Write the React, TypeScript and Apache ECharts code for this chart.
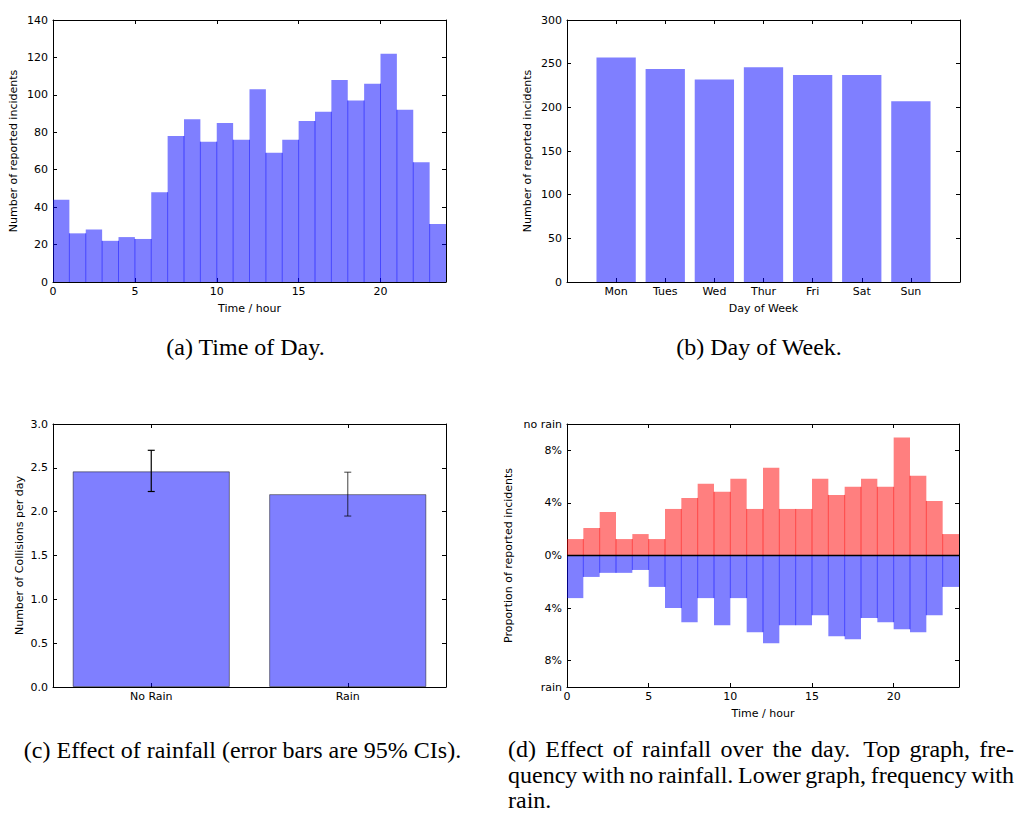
import React, { useEffect, useRef } from "react";
import * as echarts from "echarts";

// ---------- data ----------
const HOURS = [0, 1, 2, 3, 4, 5, 6, 7, 8, 9, 10, 11, 12, 13, 14, 15, 16, 17, 18, 19, 20, 21, 22, 23];
const INCIDENTS_BY_HOUR = [44, 26, 28, 22, 24, 23, 48, 78, 87, 75, 85, 76, 103, 69, 76, 86, 91, 108, 97, 106, 122, 92, 64, 31];
const HOUR_TICKS = [0, 5, 10, 15, 20];

const DAYS = ["Mon", "Tues", "Wed", "Thur", "Fri", "Sat", "Sun"];
const DAY_POS = [1, 2, 3, 4, 5, 6, 7];
const INCIDENTS_BY_DAY = [257, 244, 232, 246, 237, 237, 207];

const RAIN_CATS = ["No Rain", "Rain"];
const COLLISIONS_PER_DAY = [2.46, 2.2];
const CI_LOW = [2.23, 1.95];
const CI_HIGH = [2.7, 2.45];

const NO_RAIN_PCT = [1.25, 2.09, 3.31, 1.25, 1.63, 1.25, 3.54, 4.38, 5.45, 4.84, 5.83, 3.54, 6.68, 3.54, 3.54, 5.83, 4.61, 5.22, 5.83, 5.22, 8.97, 6.06, 4.15, 1.63];
const RAIN_PCT = [3.24, 1.63, 1.32, 1.32, 1.1, 2.39, 4.0, 5.07, 3.24, 5.3, 3.24, 5.83, 6.68, 5.3, 5.3, 4.54, 6.14, 6.37, 4.76, 5.07, 5.61, 5.83, 4.54, 2.39];
const PCT_TICKS = [-10, -8, -4, 0, 4, 8, 10];
const PCT_TICK_LABELS = ["rain", "8%", "4%", "0%", "4%", "8%", "no rain"];

const CAPTION_A = "(a) Time of Day.";
const CAPTION_B = "(b) Day of Week.";
const CAPTION_C = "(c) Effect of rainfall (error bars are 95% CIs).";
const CAPTION_D_LINES = [
  "(d) Effect of rainfall over the day.  Top graph, fre-",
  "quency with no rainfall. Lower graph, frequency with",
  "rain.",
];

// ---------- styles ----------
const FONT = "DejaVu Sans";
const SERIF = "Liberation Serif";
const CAP_SIZE = 24;
const BLUE = "rgba(0,0,255,0.5)";
const RED = "rgba(255,0,0,0.5)";
const ERR_COLORS = ["#000000", "rgba(0,0,0,0.62)"];

const axisLineStyle = { show: true, onZero: false, lineStyle: { color: "#000", width: 1 } };
const tickStyle = { show: true, inside: true, length: 4, lineStyle: { color: "#000", width: 1 } };
const labelStyle = { color: "#000", fontSize: 11, fontFamily: FONT };
const nameStyle = { color: "#000", fontSize: 11, fontFamily: FONT };

function valueX(grid: number, min: number, max: number, extra: any, top: boolean) {
  return {
    type: "value",
    gridIndex: grid,
    position: top ? "top" : "bottom",
    min,
    max,
    axisLine: axisLineStyle,
    splitLine: { show: false },
    ...extra,
    axisTick: { ...tickStyle, ...(extra.axisTick || {}) },
    axisLabel: top ? { show: false } : { ...labelStyle, margin: 4, ...(extra.axisLabel || {}) },
    name: top ? "" : extra.name,
  };
}

function valueY(grid: number, min: number, max: number, extra: any, right: boolean) {
  return {
    type: "value",
    gridIndex: grid,
    position: right ? "right" : "left",
    min,
    max,
    axisLine: axisLineStyle,
    splitLine: { show: false },
    ...extra,
    axisTick: { ...tickStyle, ...(extra.axisTick || {}) },
    axisLabel: right ? { show: false } : { ...labelStyle, margin: 5, ...(extra.axisLabel || {}) },
    name: right ? "" : extra.name,
  };
}

function rectFrom(api: any, x0: number, x1: number, y0: number, y1: number, style: any) {
  const a = api.coord([x0, y1]);
  const b = api.coord([x1, y0]);
  return {
    type: "rect",
    shape: {
      x: Math.min(a[0], b[0]),
      y: Math.min(a[1], b[1]),
      width: Math.abs(b[0] - a[0]),
      height: Math.abs(b[1] - a[1]),
    },
    style,
  };
}

// histogram bin: filled rect plus the darker shared edge with the previous bin
function histBin(api: any, idx: number, values: number[], sign: number, color: string) {
  const x0 = api.value(0);
  const v = api.value(1);
  const children: any[] = [rectFrom(api, x0, x0 + 1, Math.min(0, sign * v), Math.max(0, sign * v), { fill: color })];
  if (idx > 0) {
    const h = Math.min(values[idx - 1], values[idx]);
    const a = api.coord([x0, 0]);
    const b = api.coord([x0, sign * h]);
    children.push({ type: "line", shape: { x1: a[0], y1: a[1], x2: b[0], y2: b[1] }, style: { stroke: color, lineWidth: 1 } });
  }
  return { type: "group", children };
}

function measure(text: string) {
  const c = document.createElement("canvas").getContext("2d");
  if (!c) return text.length * CAP_SIZE * 0.45;
  c.font = `${CAP_SIZE}px "${SERIF}"`;
  return c.measureText(text).width;
}

function capText(x: number, y: number, text: string, align: string) {
  return {
    type: "text",
    x,
    y,
    style: {
      text,
      fontSize: CAP_SIZE,
      fontFamily: SERIF,
      lineHeight: 22,
      fill: "#000",
      textAlign: align,
      textVerticalAlign: "middle",
    },
  };
}

function justifiedLine(line: string, x0: number, x1: number, y: number, justify: boolean) {
  const words = line.split(/\s+/).filter((w) => w.length);
  if (!justify) return [capText(x0, y, line, "left")];
  const widths = words.map(measure);
  const total = widths.reduce((s, w) => s + w, 0);
  const weights = words.slice(0, -1).map((w) => (/\.$/.test(w) && line.includes(w + "  ") ? 1.4 : 1));
  const wsum = weights.reduce((s, w) => s + w, 0);
  const unit = (x1 - x0 - total) / wsum;
  const out: any[] = [];
  let x = x0;
  words.forEach((w, i) => {
    out.push(capText(x, y, w, "left"));
    x += widths[i] + (i < weights.length ? weights[i] * unit : 0);
  });
  return out;
}

export default function App() {
  const ref = useRef<HTMLDivElement>(null);

  useEffect(() => {
    if (!ref.current) return;
    const chart = echarts.init(ref.current, undefined, { renderer: "svg" });

    const grids = [
      { left: 53, top: 20, width: 393, height: 262 },
      { left: 567, top: 20, width: 393, height: 262 },
      { left: 53, top: 424, width: 393, height: 263 },
      { left: 567, top: 424, width: 392, height: 263 },
    ];

    const xA = { interval: 5, axisLabel: { customValues: HOUR_TICKS }, axisTick: { customValues: HOUR_TICKS }, name: "Time / hour", nameLocation: "middle", nameGap: 21, nameTextStyle: nameStyle };
    const xB = { interval: 1, axisLabel: { customValues: DAY_POS, formatter: (v: number) => DAYS[DAY_POS.indexOf(v)] || "" }, axisTick: { customValues: DAY_POS }, name: "Day of Week", nameLocation: "middle", nameGap: 21, nameTextStyle: nameStyle };
    const xD = { ...xA };

    const catX = (top: boolean) => ({
      type: "category",
      gridIndex: 2,
      position: top ? "top" : "bottom",
      data: RAIN_CATS,
      boundaryGap: true,
      axisLine: axisLineStyle,
      axisTick: { ...tickStyle, alignWithLabel: true },
      axisLabel: top ? { show: false } : { ...labelStyle, margin: 4 },
      splitLine: { show: false },
    });

    const yA = { interval: 20, name: "Number of reported incidents", nameLocation: "middle", nameGap: 34, nameTextStyle: nameStyle };
    const yB = { interval: 50, name: "Number of reported incidents", nameLocation: "middle", nameGap: 34, nameTextStyle: nameStyle };
    const yC = { interval: 0.5, axisLabel: { formatter: (v: number) => v.toFixed(1) }, name: "Number of Collisions per day", nameLocation: "middle", nameGap: 28, nameTextStyle: nameStyle };
    const yD = {
      axisLabel: { customValues: PCT_TICKS, formatter: (v: number) => PCT_TICK_LABELS[PCT_TICKS.indexOf(v)] ?? "" },
      axisTick: { customValues: PCT_TICKS },
      name: "Proportion of reported incidents",
      nameLocation: "middle",
      nameGap: 53,
      nameTextStyle: nameStyle,
    };

    const graphics: any[] = [
      capText(245.5, 347, CAPTION_A, "center"),
      capText(759, 347, CAPTION_B, "center"),
      capText(242.5, 750, CAPTION_C, "center"),
      ...justifiedLine(CAPTION_D_LINES[0], 508, 1014, 749, true),
      ...justifiedLine(CAPTION_D_LINES[1], 508, 1014, 775, true),
      ...justifiedLine(CAPTION_D_LINES[2], 508, 1014, 800, false),
    ];

    chart.setOption({
      animation: false,
      backgroundColor: "#fff",
      textStyle: { fontFamily: FONT },
      grid: grids,
      xAxis: [
        valueX(0, 0, 24, xA, false),
        valueX(0, 0, 24, xA, true),
        valueX(1, 0, 8, xB, false),
        valueX(1, 0, 8, xB, true),
        catX(false),
        catX(true),
        valueX(3, 0, 24, xD, false),
        valueX(3, 0, 24, xD, true),
      ],
      yAxis: [
        valueY(0, 0, 140, yA, false),
        valueY(0, 0, 140, yA, true),
        valueY(1, 0, 300, yB, false),
        valueY(1, 0, 300, yB, true),
        valueY(2, 0, 3, yC, false),
        valueY(2, 0, 3, yC, true),
        valueY(3, -10, 10, yD, false),
        valueY(3, -10, 10, yD, true),
      ],
      series: [
        {
          type: "custom",
          xAxisIndex: 0,
          yAxisIndex: 0,
          data: HOURS.map((h, i) => [h, INCIDENTS_BY_HOUR[i]]),
          encode: { x: 0, y: 1 },
          renderItem: (p: any, api: any) => histBin(api, p.dataIndex, INCIDENTS_BY_HOUR, 1, BLUE),
        },
        {
          type: "custom",
          xAxisIndex: 2,
          yAxisIndex: 2,
          data: DAY_POS.map((p, i) => [p, INCIDENTS_BY_DAY[i]]),
          encode: { x: 0, y: 1 },
          renderItem: (_p: any, api: any) => rectFrom(api, api.value(0) - 0.4, api.value(0) + 0.4, 0, api.value(1), { fill: BLUE }),
        },
        {
          type: "bar",
          xAxisIndex: 4,
          yAxisIndex: 4,
          data: COLLISIONS_PER_DAY,
          barCategoryGap: "20%",
          itemStyle: { color: BLUE, borderColor: "rgba(0,0,0,0.45)", borderWidth: 1 },
          z: 2,
        },
        {
          type: "custom",
          xAxisIndex: 4,
          yAxisIndex: 4,
          data: RAIN_CATS.map((_c, i) => [i, CI_LOW[i], CI_HIGH[i]]),
          encode: { x: 0, y: [1, 2] },
          z: 3,
          renderItem: (p: any, api: any) => {
            const c = api.value(0);
            const lo = api.coord([c, api.value(1)]);
            const hi = api.coord([c, api.value(2)]);
            const col = ERR_COLORS[p.dataIndex] || "#000";
            const st = { stroke: col, lineWidth: 1.2 };
            const cap = 3.5;
            return {
              type: "group",
              children: [
                { type: "line", shape: { x1: lo[0], y1: lo[1], x2: hi[0], y2: hi[1] }, style: st },
                { type: "line", shape: { x1: lo[0] - cap, y1: lo[1], x2: lo[0] + cap, y2: lo[1] }, style: st },
                { type: "line", shape: { x1: hi[0] - cap, y1: hi[1], x2: hi[0] + cap, y2: hi[1] }, style: st },
              ],
            };
          },
        },
        {
          type: "custom",
          xAxisIndex: 6,
          yAxisIndex: 6,
          data: HOURS.map((h, i) => [h, NO_RAIN_PCT[i]]),
          encode: { x: 0, y: 1 },
          renderItem: (p: any, api: any) => histBin(api, p.dataIndex, NO_RAIN_PCT, 1, RED),
        },
        {
          type: "custom",
          xAxisIndex: 6,
          yAxisIndex: 6,
          data: HOURS.map((h, i) => [h, RAIN_PCT[i]]),
          encode: { x: 0, y: 1 },
          renderItem: (p: any, api: any) => histBin(api, p.dataIndex, RAIN_PCT, -1, BLUE),
          markLine: {
            silent: true,
            symbol: "none",
            label: { show: false },
            lineStyle: { color: "#000", width: 1.4, type: "solid" },
            data: [{ yAxis: 0 }],
            z: 10,
          },
        },
      ],
      graphic: graphics,
    });

    return () => chart.dispose();
  }, []);

  return <div ref={ref} style={{ position: "absolute", left: 0, top: 0, width: 1019, height: 813 }} />;
}
